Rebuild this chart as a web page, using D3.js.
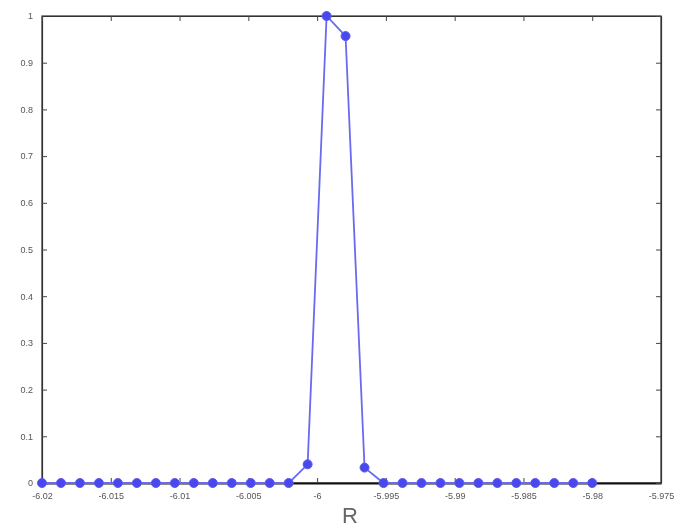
<!DOCTYPE html>
<html><head><meta charset="utf-8">
<script src="https://cdn.jsdelivr.net/npm/d3@7"></script>
<style>body{margin:0;background:#fff;} svg{display:block;}</style>
</head><body>
<script>
// Data
const xStart = -6.02, xStep = 0.04 / 29;
const yValues = [0,0,0,0,0,0,0,0,0,0,0,0,0,0,0.04,1.0,0.957,0.033,0,0,0,0,0,0,0,0,0,0,0,0];
const xTicks = [-6.02,-6.015,-6.01,-6.005,-6,-5.995,-5.99,-5.985,-5.98,-5.975];
const yTicks = [0,0.1,0.2,0.3,0.4,0.5,0.6,0.7,0.8,0.9,1];
const xLabel = "R";

const W = 677, H = 529;
const m = {left: 42, right: 16, top: 16, bottom: 46};
const svg = d3.select("body").append("svg").attr("width", W).attr("height", H);
const x = d3.scaleLinear().domain([-6.02, -5.975]).range([m.left, W - m.right]);
const y = d3.scaleLinear().domain([0, 1]).range([H - m.bottom, m.top]);
const data = yValues.map((v, i) => ({x: xStart + i * xStep, y: v}));

const fmt = d => String(+d.toFixed(3));
const g = svg.append("g").style("filter", "blur(0.4px)");

// box
g.append("rect").attr("x", m.left).attr("y", m.top)
  .attr("width", W - m.right - m.left).attr("height", H - m.bottom - m.top)
  .attr("fill", "none").attr("stroke", "#333").attr("stroke-width", 1.2);

const xb = g.append("g").attr("transform", `translate(0,${H - m.bottom})`)
  .call(d3.axisBottom(x).tickValues(xTicks).tickFormat(fmt).tickSizeInner(-5).tickSizeOuter(0).tickPadding(10));
const yl = g.append("g").attr("transform", `translate(${m.left},0)`)
  .call(d3.axisLeft(y).tickValues(yTicks).tickFormat(fmt).tickSizeInner(-5).tickSizeOuter(0).tickPadding(9));
const xt = g.append("g").attr("transform", `translate(0,${m.top})`)
  .call(d3.axisTop(x).tickValues(xTicks).tickFormat("").tickSizeInner(-5).tickSizeOuter(0));
const yr = g.append("g").attr("transform", `translate(${W - m.right},0)`)
  .call(d3.axisRight(y).tickValues(yTicks).tickFormat("").tickSizeInner(-5).tickSizeOuter(0));
[xb, yl, xt, yr].forEach(a => {
  a.select(".domain").attr("stroke", "#333").attr("stroke-width", 1.2);
  a.selectAll(".tick line").attr("stroke", "#444");
  a.selectAll("text").attr("fill", "#555").style("font-family", "Arial, Liberation Sans, sans-serif").style("font-size", "9px");
});
xb.select(".domain").attr("stroke", "#111").attr("stroke-width", 2);

// line
g.append("path").datum(data)
  .attr("d", d3.line().x(d => x(d.x)).y(d => y(d.y)))
  .attr("fill", "none").attr("stroke", "#6a6af0").attr("stroke-width", 1.8);
g.selectAll("circle.pt").data(data).join("circle").attr("class", "pt")
  .attr("cx", d => x(d.x)).attr("cy", d => y(d.y)).attr("r", 4.5)
  .attr("fill", "#4848ee").attr("stroke", "#5a5af0").attr("stroke-width", 1);

// x label
g.append("text").attr("x", 350).attr("y", 523).attr("text-anchor", "middle")
  .attr("fill", "#666").style("font-family", "Arial, Liberation Sans, sans-serif").style("font-size", "22px")
  .text(xLabel);
</script>
</body></html>
